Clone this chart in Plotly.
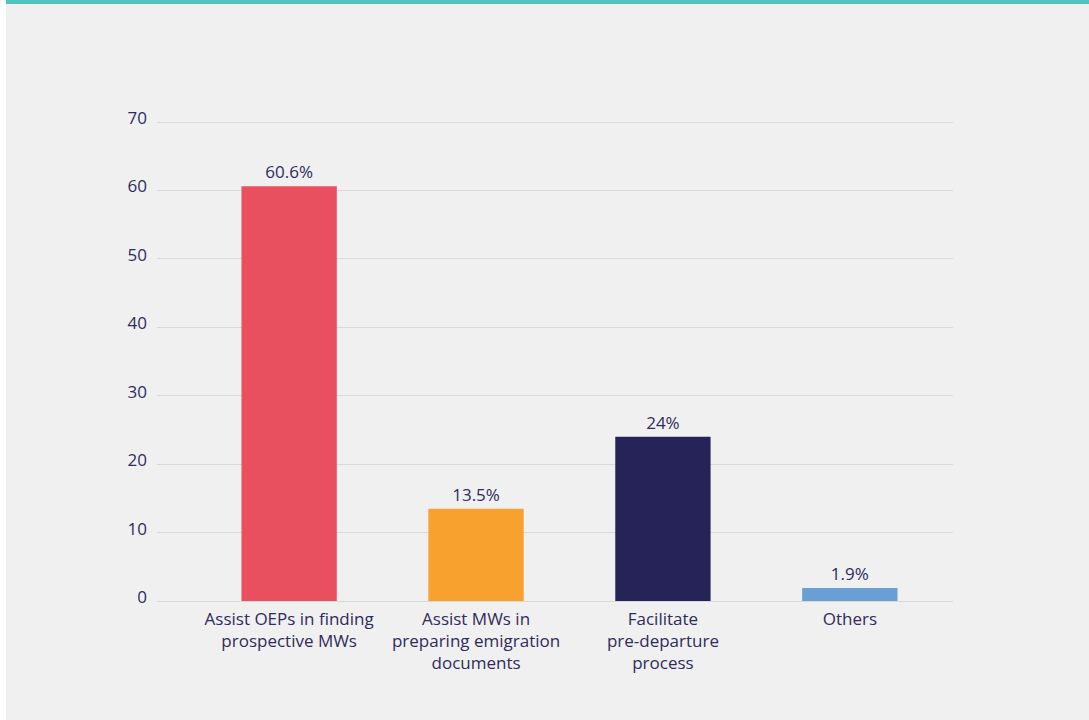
import plotly.graph_objects as go

# Survey responses: roles of intermediaries (percent of respondents)
categories = [
    "Assist OEPs in finding<br>prospective MWs",
    "Assist MWs in<br>preparing emigration<br>documents",
    "Facilitate<br>pre-departure<br>process",
    "Others",
]
values = [60.6, 13.5, 24, 1.9]
value_labels = ["60.6%", "13.5%", "24%", "1.9%"]
bar_colors = ["#e84f5f", "#f9a12f", "#252357", "#6a9fd6"]
y_ticks = [0, 10, 20, 30, 40, 50, 60, 70]
y_max = 70.3

text_color = "#2f2b5e"
bg = "#f0f0f0"

fig = go.Figure(
    go.Bar(
        x=categories,
        y=values,
        text=value_labels,
        textposition="outside",
        cliponaxis=False,
        textfont=dict(size=17, color=text_color),
        marker=dict(color=bar_colors, line=dict(width=0)),
        width=0.51,
        hoverinfo="skip",
    )
)

L, R, T, B = 157, 136, 120, 119
W, H = 1089, 720
pw, ph = W - L - R, H - T - B


def px_x(px):
    return (px - L) / pw


def px_y(py):
    return (H - B - py) / ph


fig.update_layout(
    width=W,
    height=H,
    margin=dict(l=L, r=R, t=T, b=B, pad=0),
    paper_bgcolor=bg,
    plot_bgcolor=bg,
    font=dict(family="Open Sans, Noto Sans, sans-serif", size=17, color=text_color),
    showlegend=False,
    shapes=[
        # white strip on the left edge
        dict(type="rect", xref="paper", yref="paper",
             x0=px_x(0), x1=px_x(6), y0=px_y(720), y1=px_y(0),
             fillcolor="#ffffff", line=dict(width=0), layer="below"),
        # teal accent bar along the top
        dict(type="rect", xref="paper", yref="paper",
             x0=px_x(6), x1=px_x(1089), y0=px_y(4), y1=px_y(0),
             fillcolor="#4ec4bd", line=dict(width=0), layer="above"),
    ],
)

fig.update_xaxes(
    type="category",
    range=[-0.707, 3.552],
    showgrid=False,
    showline=False,
    zeroline=False,
    ticks="",
    ticklabelstandoff=6,
    tickfont=dict(size=17, color=text_color),
)
fig.update_yaxes(
    range=[0, y_max],
    tickvals=y_ticks,
    showgrid=True,
    gridcolor="#d9d9d9",
    gridwidth=1,
    zeroline=True,
    zerolinecolor="#d9d9d9",
    zerolinewidth=1,
    showline=False,
    ticks="",
    ticklabelstandoff=9,
    ticklabelshift=-4,
    tickfont=dict(size=17, color=text_color),
)

fig.write_html("out.html")
